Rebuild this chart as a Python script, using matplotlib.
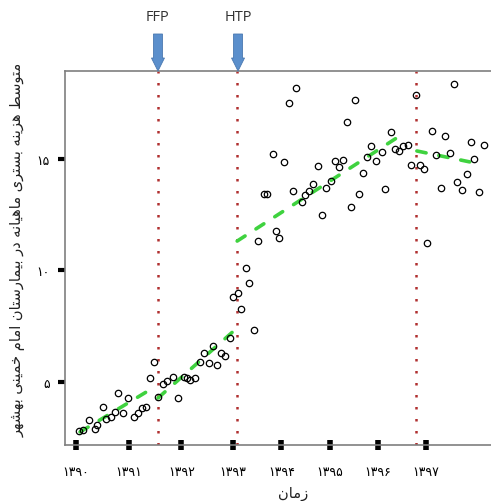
import numpy as np
import matplotlib
matplotlib.use("Agg")
import matplotlib.pyplot as plt
import matplotlib.transforms as mtransforms
from matplotlib.patches import Polygon

# ---------------- data ----------------
month_x = [0.0, 1.0, 2.4, 3.6, 4.3, 5.5, 6.4, 7.4, 8.3, 9.0, 10.2, 11.4, 12.8, 13.8,
           14.7, 15.7, 16.6, 17.6, 18.5, 19.7, 20.7, 22.1, 23.3, 24.5, 25.4, 26.1,
           27.1, 28.3, 29.2, 30.4, 31.4, 32.3, 33.3, 34.2, 35.4, 36.1, 37.3, 38.0,
           39.2, 39.9, 41.1, 42.0, 43.5, 44.2, 45.4, 46.3, 47.0, 48.2, 49.2, 50.1,
           51.0, 52.3, 53.0, 54.0, 54.9, 56.0, 57.0, 57.9, 59.1, 60.0, 61.0, 62.0,
           62.9, 63.9, 64.8, 65.8, 66.7, 67.7, 68.6, 69.6, 71.0, 71.7, 73.2, 74.1,
           75.1, 76.0, 77.2, 77.9, 79.1, 80.0, 81.0, 81.7, 82.9, 83.8, 85.0, 85.9,
           87.1, 88.0, 88.8, 89.8, 91.0, 91.9, 92.8, 94.0, 95.0]
monthly_cost = [2.82, 2.85, 3.30, 2.89, 3.07, 3.88, 3.34, 3.43, 3.65, 4.51, 3.61, 4.28,
                3.43, 3.61, 3.83, 3.88, 5.18, 5.90, 4.33, 4.91, 5.04, 5.22, 4.28, 5.22,
                5.18, 5.09, 5.18, 5.90, 6.30, 5.85, 6.61, 5.76, 6.30, 6.17, 6.97, 8.81,
                8.99, 8.27, 10.11, 9.44, 7.33, 11.32, 13.43, 13.43, 15.22, 11.77, 11.46,
                14.87, 17.51, 13.57, 18.18, 13.07, 13.39, 13.57, 13.88, 14.69, 12.49,
                13.70, 14.01, 14.91, 14.64, 14.96, 16.66, 12.85, 17.65, 13.43, 14.37,
                15.09, 15.58, 14.91, 15.31, 13.65, 16.21, 15.45, 15.36, 15.58, 15.63,
                14.73, 17.87, 14.73, 14.55, 11.23, 16.26, 15.18, 13.70, 16.03, 15.27,
                18.36, 13.97, 13.61, 14.33, 15.76, 15.00, 13.52, 15.63]

# fitted segmented trend (start/end of each segment)
trend_seg1_x = [0.2, 17.3]
trend_seg1_y = [2.76, 4.73]
trend_seg2_x = [18.5, 36.3]
trend_seg2_y = [4.28, 7.29]
trend_seg3_x = [37.1, 76.7]
trend_seg3_y = [11.32, 16.21]
trend_seg4_x = [79.3, 91.7]
trend_seg4_y = [15.36, 14.87]

# interventions
intervention_x = [18.5, 37.1, 79.1]
arrow_labels = ["FFP", "HTP"]
arrow_x = [18.5, 37.3]

x_tick_pos = [-0.7, 11.6, 24.0, 36.1, 47.5, 58.9, 70.1, 81.5]
x_tick_labels = ["۱۳۹۰", "۱۳۹۱", "۱۳۹۲", "۱۳۹۳", "۱۳۹۴", "۱۳۹۵", "۱۳۹۶", "۱۳۹۷"]
y_tick_pos = [5, 10, 15]
y_tick_labels = ["۵", "۱۰", "۱۵"]

y_label = "متوسط هزینه بستری ماهیانه در بیمارستان امام خمینی بهشهر"
x_label = "زمان"

# ---------------- minimal Persian shaping ----------------
# letter: (isolated, final, initial, medial) ; None for right-joining letters
FORMS = {
    "ا": ("\uFE8D", "\uFE8E", None, None),
    "ب": ("\uFE8F", "\uFE90", "\uFE91", "\uFE92"),
    "ت": ("\uFE95", "\uFE96", "\uFE97", "\uFE98"),
    "خ": ("\uFEA5", "\uFEA6", "\uFEA7", "\uFEA8"),
    "د": ("\uFEA9", "\uFEAA", None, None),
    "ر": ("\uFEAD", "\uFEAE", None, None),
    "ز": ("\uFEAF", "\uFEB0", None, None),
    "س": ("\uFEB1", "\uFEB2", "\uFEB3", "\uFEB4"),
    "ش": ("\uFEB5", "\uFEB6", "\uFEB7", "\uFEB8"),
    "ط": ("\uFEC1", "\uFEC2", "\uFEC3", "\uFEC4"),
    "م": ("\uFEE1", "\uFEE2", "\uFEE3", "\uFEE4"),
    "ن": ("\uFEE5", "\uFEE6", "\uFEE7", "\uFEE8"),
    "ه": ("\uFEE9", "\uFEEA", "\uFEEB", "\uFEEC"),
    "و": ("\uFEED", "\uFEEE", None, None),
    "ی": ("\uFEEF", "\uFEF0", "\uFEF3", "\uFEF4"),
}


def shape(text):
    out = []
    n = len(text)
    for i, ch in enumerate(text):
        if ch not in FORMS:
            out.append(ch)
            continue
        f = FORMS[ch]
        prev = text[i - 1] if i > 0 else None
        nxt = text[i + 1] if i < n - 1 else None
        join_prev = prev in FORMS and FORMS[prev][2] is not None
        join_next = f[2] is not None and nxt in FORMS
        if join_prev and join_next:
            out.append(f[3])
        elif join_prev:
            out.append(f[1])
        elif join_next:
            out.append(f[2])
        else:
            out.append(f[0])
    return "".join(out)[::-1]


# ---------------- figure ----------------
plt.rcParams['font.family'] = ['DejaVu Sans']
fig = plt.figure(figsize=(4.91, 5.02), dpi=100)
ax = fig.add_axes([65 / 491, 1 - 446 / 502, 1.0 - 65 / 491 + 0.01, (446 - 72) / 502])

spine_col = "#7f7f7f"
for s in ["left", "top", "bottom"]:
    ax.spines[s].set_color(spine_col)
    ax.spines[s].set_linewidth(1.2)
ax.spines["right"].set_visible(False)

ax.set_xlim(-3.33, 97.86)
ax.set_ylim(2.175, 18.946)

# intervention lines
for xv in intervention_x:
    ax.axvline(xv, color="#b03030", lw=1.8, linestyle=(0, (1, 3.8)), zorder=1)

# trend segments
green = "#3fd23f"
for sx, sy in [(trend_seg1_x, trend_seg1_y), (trend_seg2_x, trend_seg2_y),
               (trend_seg3_x, trend_seg3_y), (trend_seg4_x, trend_seg4_y)]:
    ax.plot(sx, sy, color=green, lw=2.6, linestyle=(0, (2.6, 3.6)),
            dash_capstyle="round", zorder=2)

# points
ax.plot(month_x, monthly_cost, linestyle="none", marker="o", ms=4.6,
        mfc="none", mec="black", mew=0.9, zorder=3)

# ticks
ax.set_xticks(x_tick_pos)
ax.set_xticklabels(x_tick_labels)
ax.set_yticks(y_tick_pos)
ax.set_yticklabels(y_tick_labels)
ax.tick_params(axis="x", direction="inout", length=7, width=4, color="black",
               pad=11, labelsize=9)
ax.tick_params(axis="y", direction="out", length=5, width=3, color="black",
               pad=6, labelsize=9)

# arrows + labels
arrow_col = "#5b8fcc"
for xa, lab in zip(arrow_x, arrow_labels):
    tr = fig.dpi_scale_trans + mtransforms.ScaledTranslation(
        xa, 1.0, ax.get_xaxis_transform())
    verts = [(0, 0.0), (-0.065, 0.13), (-0.045, 0.13), (-0.045, 0.37),
             (0.045, 0.37), (0.045, 0.13), (0.065, 0.13)]
    poly = Polygon(verts, closed=True, transform=tr, facecolor=arrow_col,
                   edgecolor="#4a78b0", lw=0.6, clip_on=False, zorder=5)
    fig.add_artist(poly)
    ax.annotate(lab, xy=(xa, 1.0), xycoords=ax.get_xaxis_transform(),
                xytext=(0, 39), textcoords="offset points", ha="center",
                va="center", fontsize=10.5, color="#333333",
                family=["Open Sans", "DejaVu Sans"], annotation_clip=False)

# axis labels
fig.text(18 / 491, 1 - 250 / 502, shape(y_label), rotation=90, ha="center",
         va="center", fontsize=10.5, color="#222222")
fig.text(293 / 491, 1 - 494 / 502, shape(x_label), ha="center", va="center",
         fontsize=10.5, color="#222222")

fig.savefig("out.png", dpi=100, facecolor="white")
